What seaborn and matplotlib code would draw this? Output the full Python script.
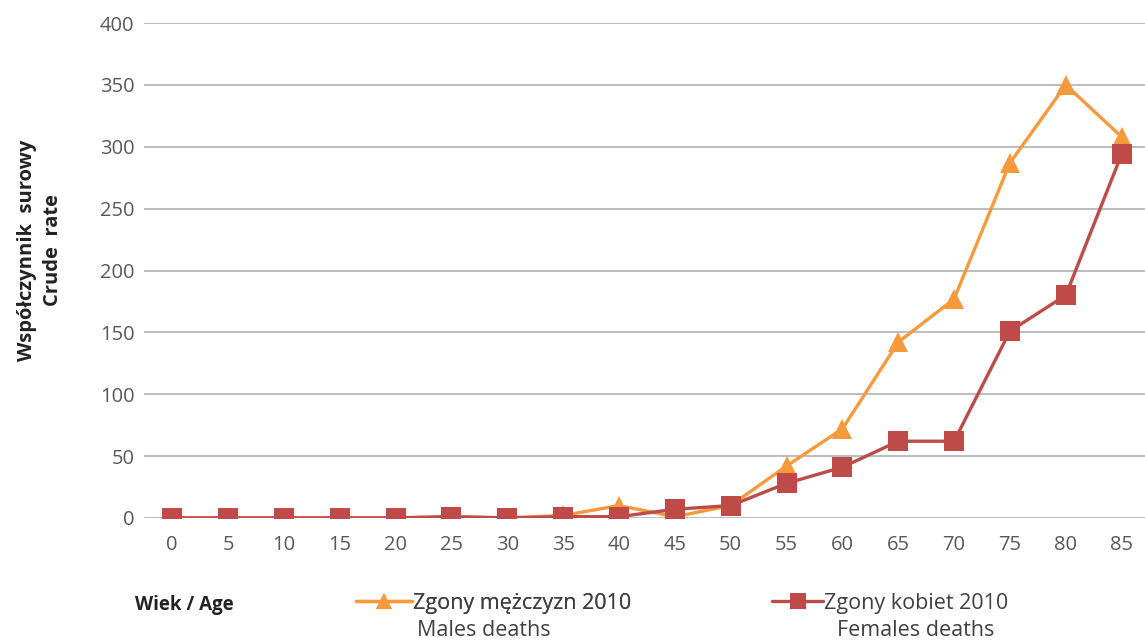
import matplotlib
matplotlib.use("Agg")
import matplotlib.pyplot as plt
import seaborn as sns
import pandas as pd
from matplotlib.lines import Line2D

ages = [0, 5, 10, 15, 20, 25, 30, 35, 40, 45, 50, 55, 60, 65, 70, 75, 80, 85]
males = [0, 0, 0, 0, 0, 1, 0, 2, 10, 1, 10, 42, 72, 142, 177, 287, 350, 308]
females = [0, 0, 0, 0, 0, 1, 0, 1, 1, 7, 10, 28, 41, 62, 62, 151, 180, 294]
male_label = "Zgony mężczyzn 2010"
male_label2 = "Males deaths"
female_label = "Zgony kobiet 2010"
female_label2 = "Females deaths"
yticks = [0, 50, 100, 150, 200, 250, 300, 350, 400]

sns.set_theme(style="white")
plt.rcParams['font.family'] = ['Open Sans', 'DejaVu Sans']

c_m = "#F79A3E"
c_f = "#BE4B48"

df = pd.DataFrame({
    "pos": list(range(len(ages))) * 2,
    "val": males + females,
    "series": [male_label] * len(ages) + [female_label] * len(ages),
})

fig = plt.figure(figsize=(11.45, 6.41), dpi=100)
ax = fig.add_axes([0.126, 0.192, 0.878, 0.772])

sns.lineplot(data=df, x="pos", y="val", hue="series", style="series",
             palette={male_label: c_m, female_label: c_f},
             markers={male_label: "^", female_label: "s"},
             dashes=False, linewidth=2.4, markersize=15, markeredgewidth=0,
             ax=ax, legend=False, sort=False)

ax.set_xlim(-0.5, len(ages) - 0.5)
ax.set_ylim(0, 400)
ax.set_yticks(yticks)
ax.set_yticklabels([str(v) for v in yticks])
ax.set_xticks(range(len(ages)))
ax.set_xticklabels([str(a) for a in ages])
ax.yaxis.grid(True, color="#BDBDBD", linewidth=1.4)
ax.set_axisbelow(True)
for s in ax.spines.values():
    s.set_visible(False)
ax.tick_params(axis="both", length=0, labelsize=14.5, labelcolor="#595959")
ax.tick_params(axis="x", pad=12)
ax.tick_params(axis="y", pad=7)
ax.set_xlabel("")
ax.set_ylabel("")

fig.text(0.035, 0.61, "Współczynnik  surowy\nCrude  rate", rotation=90,
         ha="center", va="center", fontsize=14.5, fontweight="bold",
         color="#222222", linespacing=1.45)
fig.text(0.118, 0.056, "Wiek / Age", fontsize=13.5, fontweight="bold",
         color="#222222", ha="left", va="center")

h_m = Line2D([], [], color=c_m, marker="^", markersize=12, linewidth=2.4, markeredgewidth=0)
h_f = Line2D([], [], color=c_f, marker="s", markersize=12, linewidth=2.4, markeredgewidth=0)
leg1 = fig.legend([h_m], [male_label], loc="center left", bbox_to_anchor=(0.311, 0.059),
                  frameon=False, fontsize=15.5, handlelength=2.6, handletextpad=0.05,
                  borderpad=0, borderaxespad=0, labelcolor="#404040")
fig.add_artist(leg1)
fig.legend([h_f], [female_label], loc="center left", bbox_to_anchor=(0.674, 0.059),
           frameon=False, fontsize=15.5, handlelength=2.4, handletextpad=0.05,
           borderpad=0, borderaxespad=0, labelcolor="#404040")
fig.text(0.364, 0.016, male_label2, fontsize=15.5, color="#404040", ha="left", va="center")
fig.text(0.731, 0.016, female_label2, fontsize=15.5, color="#404040", ha="left", va="center")

fig.savefig("out.png", dpi=100)
